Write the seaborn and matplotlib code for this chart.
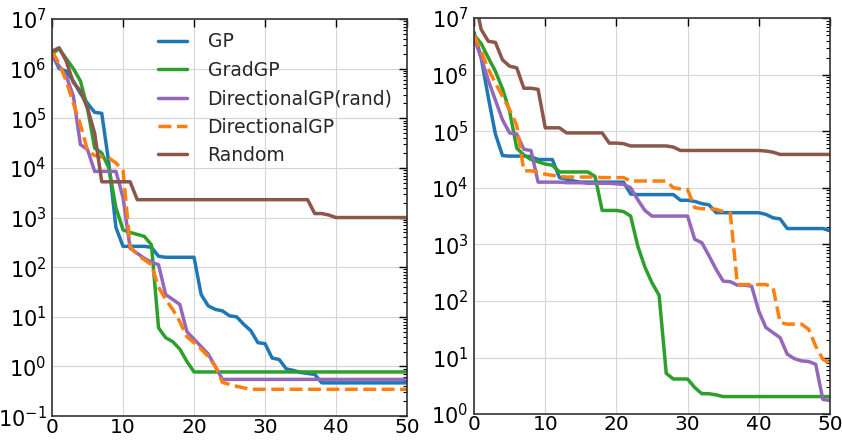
import numpy as np
import matplotlib
matplotlib.use("Agg")
import matplotlib.pyplot as plt
import seaborn as sns


# DATA (log10 of the values)

steps = list(range(51))

series_names = ["GP", "GradGP", "DirectionalGP(rand)", "DirectionalGP", "Random"]
series_colors = ["#1f77b4", "#2ca02c", "#9467bd", "#ff7f0e", "#8c564b"]

left_gp = [6.3, 6.0, 5.95, 5.75, 5.5, 5.3, 5.12, 5.1, 4.1, 2.8,
           2.42, 2.42, 2.42, 2.42, 2.4, 2.22, 2.2, 2.2, 2.2, 2.2,
           2.2, 1.45, 1.22, 1.15, 1.12, 1.02, 1.0, 0.85, 0.72, 0.48,
           0.46, 0.17, 0.14, -0.05, -0.08, -0.12, -0.14, -0.16, -0.33, -0.33,
           -0.33, -0.33, -0.33, -0.33, -0.33, -0.33, -0.33, -0.33, -0.33, -0.33, -0.33]
left_grad = [6.3, 6.4, 6.2, 6.0, 5.75, 5.2, 4.4, 4.3, 4.0, 3.2,
             2.75, 2.7, 2.66, 2.62, 2.45, 0.78, 0.58, 0.5, 0.35, 0.1,
             -0.11, -0.11, -0.11, -0.11, -0.11, -0.11, -0.11, -0.11, -0.11, -0.11,
             -0.11, -0.11, -0.11, -0.11, -0.11, -0.11, -0.11, -0.11, -0.11, -0.11,
             -0.11, -0.11, -0.11, -0.11, -0.11, -0.11, -0.11, -0.11, -0.11, -0.11, -0.11]
left_dir_rand = [6.25, 6.05, 5.85, 5.45, 4.47, 4.37, 3.93, 3.93, 3.93, 3.93,
                 3.4, 2.38, 2.28, 2.18, 2.1, 2.05, 1.45, 1.35, 1.25, 0.7,
                 0.55, 0.4, 0.25, 0.0, -0.26, -0.26, -0.26, -0.26, -0.26, -0.26,
                 -0.26, -0.26, -0.26, -0.26, -0.26, -0.26, -0.26, -0.26, -0.26, -0.26,
                 -0.26, -0.26, -0.26, -0.26, -0.26, -0.26, -0.26, -0.26, -0.26, -0.26, -0.26]
left_dir = [6.35, 6.1, 5.75, 5.3, 4.87, 4.35, 4.25, 4.22, 4.2, 4.1,
            3.95, 2.42, 2.25, 2.15, 2.05, 1.6, 1.35, 1.15, 0.9, 0.6,
            0.48, 0.35, 0.2, 0.0, -0.32, -0.36, -0.4, -0.43, -0.46, -0.46,
            -0.46, -0.46, -0.46, -0.46, -0.46, -0.46, -0.46, -0.46, -0.46, -0.46,
            -0.46, -0.46, -0.46, -0.46, -0.46, -0.46, -0.46, -0.46, -0.46, -0.46, -0.46]
left_random = [6.35, 6.42, 6.15, 5.72, 5.55, 5.2, 4.7, 3.72, 3.72, 3.72,
               3.72, 3.72, 3.36, 3.36, 3.36, 3.36, 3.36, 3.36, 3.36, 3.36,
               3.36, 3.36, 3.36, 3.36, 3.36, 3.36, 3.36, 3.36, 3.36, 3.36,
               3.36, 3.36, 3.36, 3.36, 3.36, 3.36, 3.36, 3.08, 3.08, 3.05,
               3.0, 3.0, 3.0, 3.0, 3.0, 3.0, 3.0, 3.0, 3.0, 3.0, 3.0]

right_gp = [6.75, 6.3, 5.6, 4.95, 4.57, 4.56, 4.56, 4.56, 4.55, 4.5,
            4.5, 4.5, 4.18, 4.15, 4.12, 4.1, 4.1, 4.1, 4.1, 4.1,
            4.1, 4.1, 3.89, 3.88, 3.88, 3.88, 3.88, 3.88, 3.88, 3.78,
            3.78, 3.76, 3.72, 3.7, 3.56, 3.56, 3.56, 3.56, 3.56, 3.56,
            3.56, 3.53, 3.47, 3.45, 3.28, 3.28, 3.28, 3.28, 3.28, 3.28, 3.24]
right_grad = [6.7, 6.55, 6.3, 6.06, 5.75, 5.35, 4.7, 4.58, 4.5, 4.46,
              4.42, 4.4, 4.28, 4.28, 4.28, 4.28, 4.28, 4.2, 3.6, 3.6,
              3.6, 3.58, 3.5, 2.97, 2.6, 2.32, 2.1, 0.72, 0.62, 0.62,
              0.62, 0.47, 0.36, 0.36, 0.34, 0.31, 0.31, 0.31, 0.31, 0.31,
              0.31, 0.31, 0.31, 0.31, 0.31, 0.31, 0.31, 0.31, 0.31, 0.31, 0.31]
right_dir_rand = [6.65, 6.3, 5.9, 5.55, 5.2, 4.97, 4.95, 4.68, 4.66, 4.1,
                  4.1, 4.1, 4.1, 4.09, 4.09, 4.09, 4.08, 4.08, 4.08, 4.08,
                  4.07, 4.06, 4.0, 3.79, 3.6, 3.5, 3.5, 3.5, 3.5, 3.5,
                  3.5, 3.09, 3.03, 2.8, 2.56, 2.35, 2.34, 2.28, 2.28, 2.26,
                  1.82, 1.53, 1.44, 1.35, 1.06, 0.98, 0.94, 0.93, 0.88, 0.26, 0.24]
right_dir = [6.7, 6.42, 6.1, 5.85, 5.62, 5.38, 5.1, 4.3, 4.3, 4.28,
             4.24, 4.22, 4.2, 4.19, 4.19, 4.19, 4.19, 4.19, 4.18, 4.18,
             4.18, 4.18, 4.12, 4.12, 4.12, 4.12, 4.12, 4.12, 4.0, 3.98,
             3.97, 3.65, 3.63, 3.63, 3.62, 3.58, 3.55, 2.29, 2.29, 2.29,
             2.29, 2.29, 2.24, 1.62, 1.59, 1.59, 1.59, 1.5, 1.2, 0.97, 0.9]
right_random = [7.4, 6.8, 6.59, 6.57, 6.26, 6.15, 6.12, 5.76, 5.76, 5.74,
                5.06, 5.06, 5.06, 4.97, 4.97, 4.97, 4.97, 4.97, 4.97, 4.79,
                4.79, 4.78, 4.74, 4.74, 4.74, 4.74, 4.74, 4.74, 4.72, 4.66,
                4.66, 4.66, 4.66, 4.66, 4.66, 4.66, 4.66, 4.66, 4.66, 4.66,
                4.66, 4.65, 4.63, 4.59, 4.59, 4.59, 4.59, 4.59, 4.59, 4.59, 4.59]

left_series = [left_gp, left_grad, left_dir_rand, left_dir, left_random]
right_series = [right_gp, right_grad, right_dir_rand, right_dir, right_random]


# STYLE

sns.set_style("white")
plt.rcParams["font.family"] = ["DejaVu Sans"]
plt.rcParams["font.size"] = 15


def style_axes(ax, ymin, ymax):
    ax.set_yscale("log")
    ax.set_xlim(0, 50)
    ax.set_ylim(ymin, ymax)
    ax.set_xticks([0, 10, 20, 30, 40, 50])
    ax.grid(True, which="major", color="#d6d6d6", linewidth=0.8)
    ax.tick_params(which="both", direction="in", top=True, right=True,
                   labelsize=15, colors="black")
    ax.tick_params(which="major", length=6, width=1)
    ax.tick_params(which="minor", length=3, width=0.8)
    ax.tick_params(axis="x", pad=1, labelsize=14.5)
    ax.tick_params(axis="y", pad=4)
    for spine in ax.spines.values():
        spine.set_edgecolor("#333333")
        spine.set_linewidth(1.2)
    ax.set_xlabel("")
    ax.set_ylabel("")


# PLOT

fig = plt.figure(figsize=(8.42, 4.41), dpi=100)
ax_left = fig.add_axes([0.0618, 0.0564, 0.4216, 0.9006])
ax_right = fig.add_axes([0.563, 0.061, 0.4227, 0.898])

for ax, group in [(ax_left, left_series), (ax_right, right_series)]:
    for name, color, vals in zip(series_names, series_colors, group):
        dashed = name == "DirectionalGP"
        sns.lineplot(x=steps, y=10 ** np.array(vals), ax=ax, color=color,
                     linewidth=2.5, label=name,
                     linestyle="--" if dashed else "-",
                     dashes=(4, 3) if dashed else None)

style_axes(ax_left, 1e-1, 1e7)
style_axes(ax_right, 1e0, 1e7)

ax_right.get_legend().remove()
ax_left.legend(loc="upper left", bbox_to_anchor=(0.277, 0.985), frameon=False,
               fontsize=13.5, handlelength=1.55, handletextpad=1.1,
               labelspacing=0.5, borderaxespad=0.0)

plt.savefig("out.png", dpi=100)
plt.close()
